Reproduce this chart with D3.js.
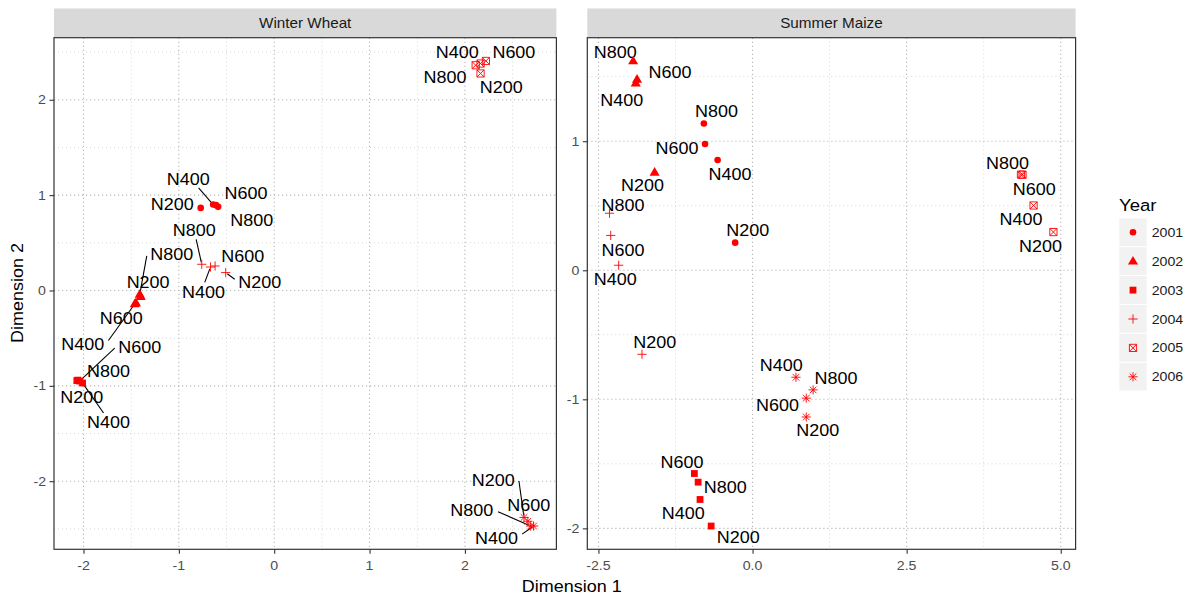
<html>
<head>
<script src="https://cdnjs.cloudflare.com/ajax/libs/d3/7.8.5/d3.min.js"></script>
<style>
  body { margin: 0; background: #fff; }
  text { font-family: "Liberation Sans", Arial, sans-serif; }
</style>
</head>
<body>
<script>
// ---- data ----
var crops = ["Winter Wheat", "Summer Maize"];
var years = ["2001", "2002", "2003", "2004", "2005", "2006"];
var nLevels = ["N200", "N400", "N600", "N800"];

// rows = years, columns = N200, N400, N600, N800
var wheatDim1 = [
  [-0.771, -0.640, -0.610, -0.588],
  [-1.400, -1.462, -1.450, -1.410],
  [-2.070, -2.010, -2.040, -2.060],
  [-0.509, -0.668, -0.620, -0.760],
  [ 2.164,  2.164,  2.220,  2.113],
  [ 2.620,  2.720,  2.660,  2.690]
];
var wheatDim2 = [
  [ 0.866,  0.901,  0.895,  0.877],
  [-0.065, -0.140, -0.130, -0.040],
  [-0.945, -0.970, -0.950, -0.940],
  [ 0.188,  0.246,  0.257,  0.275],
  [ 2.276,  2.380,  2.407,  2.362],
  [-2.380, -2.470, -2.420, -2.470]
];
var maizeDim1 = [
  [-0.282, -0.567, -0.771, -0.790],
  [-1.589, -1.895, -1.874, -1.937],
  [-0.672, -0.852, -0.944, -0.883],
  [-1.794, -2.172, -2.301, -2.321],
  [ 4.881,  4.559,  4.380,  4.355],
  [ 0.871,  0.704,  0.871,  0.983]
];
var maizeDim2 = [
  [ 0.214,  0.855,  0.978,  1.137],
  [ 0.759,  1.450,  1.480,  1.622],
  [-1.982, -1.776, -1.575, -1.642],
  [-0.651,  0.039,  0.270,  0.442],
  [ 0.296,  0.502,  0.741,  0.741],
  [-1.137, -0.829, -0.991, -0.927]
];

var wheatXTicks = [-2, -1, 0, 1, 2];
var wheatYTicks = [-2, -1, 0, 1, 2];
var maizeXTicks = [-2.5, 0, 2.5, 5];
var maizeYTicks = [-2, -1, 0, 1];

// repelled label placement in px: [dx, dy] from the point,
// optionally followed by the segment start [sx, sy] from the label centre
var labelNudge = {
  "Winter Wheat": {
    "2001": [[-28.5, -3.3], [-25, -25, 10.4, 8.3], [30, -12], [33.7, 13.2]],
    "2002": [[7.4, -14.6], [-52, 40, 25.6, -3.3], [-14.7, 15], [32, -40, -25, 1.6]],
    "2003": [[5, 16.3], [26, 39.3, -5, -9.3], [60, -34, -25, 1], [30.7, -9]],
    "2004": [[34, 9.4, -25, -2.7], [-7, 25, 1.2, -9.7], [27.6, -9.4], [-7.6, -34, 2, 9]],
    "2005": [[20.7, 14], [-23.4, -11.6], [28, -9], [-30.7, 12.3]],
    "2006": [[-30.7, -37.5, 25.6, 1], [-37, 12.5, 25.6, -4.4], [1, -16], [-59, -15.4, 26.3, 1]]
  },
  "Summer Maize": {
    "2001": [[12.6, -12.3], [12.3, 14], [-28, 4], [12.7, -12]],
    "2002": [[-12, 12.6], [-14, 17], [33, -6.7], [-18, -8.3]],
    "2003": [[27.2, 11.6], [-16.8, 14], [-12.3, -11.7], [27.2, 5]],
    "2004": [[12.7, -11.6], [-3.5, 14.3], [12.2, 14.3], [13.4, -7.7]],
    "2005": [[-13, 14], [-12.6, 14], [11.8, 14.3], [-13.4, -11.7]],
    "2006": [[11.5, 13.4], [-14.6, -12.3], [-28.7, 7.4], [22.9, -11.7]]
  }
};

// ---- layout ----
var width = 1198, height = 600;
var panelTop = 37.7, panelBottom = 549.3, stripTop = 8.5;
var stretch = 1.09;
var red = "#ff0000";

var panels = [
  { crop: crops[0], x0: 54, x1: 556.4, d1: wheatDim1, d2: wheatDim2, xt: wheatXTicks, yt: wheatYTicks, fmt: function (v) { return String(v); } },
  { crop: crops[1], x0: 587.3, x1: 1075.6, d1: maizeDim1, d2: maizeDim2, xt: maizeXTicks, yt: maizeYTicks, fmt: function (v) { return v.toFixed(1); } }
];

var svg = d3.select("body").append("svg")
  .attr("width", width)
  .attr("height", height);

function stext(parent, x, y, str, size, anchor, color, rotate) {
  var g = parent.append("g")
    .attr("transform", "translate(" + x + "," + y + ")" + (rotate ? " rotate(" + rotate + ")" : "") + " scale(" + stretch + ",1)");
  g.append("text")
    .attr("text-anchor", anchor)
    .attr("dy", "0.35em")
    .attr("font-size", size)
    .attr("fill", color)
    .text(str);
  return g;
}

function expand(vals) {
  var e = d3.extent(vals), pad = (e[1] - e[0]) * 0.05;
  return [e[0] - pad, e[1] + pad];
}

function minorTicks(ticks, dom) {
  var step = ticks[1] - ticks[0], out = [];
  for (var v = ticks[0] - step / 2; v <= ticks[ticks.length - 1] + step; v += step) {
    if (v >= dom[0] && v <= dom[1]) out.push(v);
  }
  return out;
}

function drawShape(g, year, x, y) {
  if (year === "2001") {
    g.append("circle").attr("cx", x).attr("cy", y).attr("r", 3.3).attr("fill", red);
  } else if (year === "2002") {
    g.append("path").attr("d", d3.symbol(d3.symbolTriangle, 44)())
      .attr("transform", "translate(" + x + "," + (y + 0.5) + ")").attr("fill", red);
  } else if (year === "2003") {
    g.append("rect").attr("x", x - 3.4).attr("y", y - 3.4).attr("width", 6.8).attr("height", 6.8).attr("fill", red);
  } else if (year === "2004") {
    g.append("path").attr("d", "M" + (x - 4.6) + "," + y + "H" + (x + 4.6) + "M" + x + "," + (y - 4.6) + "V" + (y + 4.6))
      .attr("stroke", red).attr("stroke-width", 0.9).attr("fill", "none");
  } else if (year === "2005") {
    var s = 3.6;
    g.append("path").attr("d",
      "M" + (x - s) + "," + (y - s) + "H" + (x + s) + "V" + (y + s) + "H" + (x - s) + "Z" +
      "M" + (x - s) + "," + (y - s) + "L" + (x + s) + "," + (y + s) +
      "M" + (x + s) + "," + (y - s) + "L" + (x - s) + "," + (y + s))
      .attr("stroke", red).attr("stroke-width", 0.9).attr("fill", "none");
  } else {
    var r = 4.6, q = 3.3;
    g.append("path").attr("d",
      "M" + (x - r) + "," + y + "H" + (x + r) + "M" + x + "," + (y - r) + "V" + (y + r) +
      "M" + (x - q) + "," + (y - q) + "L" + (x + q) + "," + (y + q) +
      "M" + (x + q) + "," + (y - q) + "L" + (x - q) + "," + (y + q))
      .attr("stroke", red).attr("stroke-width", 0.9).attr("fill", "none");
  }
}

panels.forEach(function (p) {
  var xDom = expand(d3.merge(p.d1)), yDom = expand(d3.merge(p.d2));
  var x = d3.scaleLinear().domain(xDom).range([p.x0, p.x1]);
  var y = d3.scaleLinear().domain(yDom).range([panelBottom, panelTop]);
  var g = svg.append("g");

  // strip
  g.append("rect").attr("x", p.x0).attr("y", stripTop)
    .attr("width", p.x1 - p.x0).attr("height", panelTop - stripTop)
    .attr("fill", "#d9d9d9");
  stext(g, (p.x0 + p.x1) / 2, (stripTop + panelTop) / 2, p.crop, 14, "middle", "#1a1a1a");

  // grid
  var grid = g.append("g");
  minorTicks(p.xt, xDom).forEach(function (v) {
    grid.append("line").attr("x1", x(v)).attr("x2", x(v)).attr("y1", panelTop).attr("y2", panelBottom)
      .attr("stroke", "#d6d6d6").attr("stroke-width", 1).attr("stroke-dasharray", "1,3");
  });
  minorTicks(p.yt, yDom).forEach(function (v) {
    grid.append("line").attr("x1", p.x0).attr("x2", p.x1).attr("y1", y(v)).attr("y2", y(v))
      .attr("stroke", "#d6d6d6").attr("stroke-width", 1).attr("stroke-dasharray", "1,3");
  });
  p.xt.forEach(function (v) {
    grid.append("line").attr("x1", x(v)).attr("x2", x(v)).attr("y1", panelTop).attr("y2", panelBottom)
      .attr("stroke", "#b8b8b8").attr("stroke-width", 1.1).attr("stroke-dasharray", "1.2,2.8");
  });
  p.yt.forEach(function (v) {
    grid.append("line").attr("x1", p.x0).attr("x2", p.x1).attr("y1", y(v)).attr("y2", y(v))
      .attr("stroke", "#b8b8b8").attr("stroke-width", 1.1).attr("stroke-dasharray", "1.2,2.8");
  });

  // axes (tick marks from d3; tick text drawn stretched like the rest)
  var xa = g.append("g").attr("transform", "translate(0," + panelBottom + ")")
    .call(d3.axisBottom(x).tickValues(p.xt).tickSize(4.5).tickFormat(""));
  var ya = g.append("g").attr("transform", "translate(" + p.x0 + ",0)")
    .call(d3.axisLeft(y).tickValues(p.yt).tickSize(4.5).tickFormat(""));
  [xa, ya].forEach(function (a) {
    a.select(".domain").remove();
    a.selectAll("line").attr("stroke", "#333").attr("stroke-width", 1.1);
  });
  p.xt.forEach(function (v) {
    stext(g, x(v), 565, p.fmt(v), 13, "middle", "#4d4d4d");
  });
  p.yt.forEach(function (v) {
    stext(g, p.x0 - 8, y(v), String(v), 13, "end", "#4d4d4d");
  });

  // label segments, labels, points
  var lab = g.append("g"), pts = g.append("g");
  years.forEach(function (yr, i) {
    nLevels.forEach(function (n, j) {
      var px = x(p.d1[i][j]), py = y(p.d2[i][j]);
      var nd = labelNudge[p.crop][yr][j];
      var lx = px + nd[0], ly = py + nd[1];
      if (nd.length > 2) {
        var sx = lx + nd[2], sy = ly + nd[3];
        var dx = px - sx, dy = py - sy, len = Math.sqrt(dx * dx + dy * dy);
        lab.append("line")
          .attr("x1", sx).attr("y1", sy)
          .attr("x2", px - dx / len * 2).attr("y2", py - dy / len * 2)
          .attr("stroke", "#000").attr("stroke-width", 1.1);
      }
      stext(lab, lx, ly, n, 16.5, "middle", "#000");
      drawShape(pts, yr, px, py);
    });
  });

  // panel border
  g.append("rect").attr("x", p.x0).attr("y", panelTop)
    .attr("width", p.x1 - p.x0).attr("height", panelBottom - panelTop)
    .attr("fill", "none").attr("stroke", "#333").attr("stroke-width", 1.2);
});

// axis titles
stext(svg, 571.7, 586, "Dimension 1", 16.5, "middle", "#000");
stext(svg, 17, 293, "Dimension 2", 16.5, "middle", "#000", -90);

// legend
var leg = svg.append("g");
stext(leg, 1119, 205, "Year", 17, "start", "#000");
years.forEach(function (yr, i) {
  var cy = 232.3 + i * 28.9;
  leg.append("rect").attr("x", 1119.3).attr("y", cy - 14).attr("width", 27.4).attr("height", 27.8)
    .attr("fill", "#f2f2f2");
  drawShape(leg, yr, 1133, cy);
  stext(leg, 1151.7, cy, yr, 13, "start", "#1a1a1a");
});
</script>
</body>
</html>
